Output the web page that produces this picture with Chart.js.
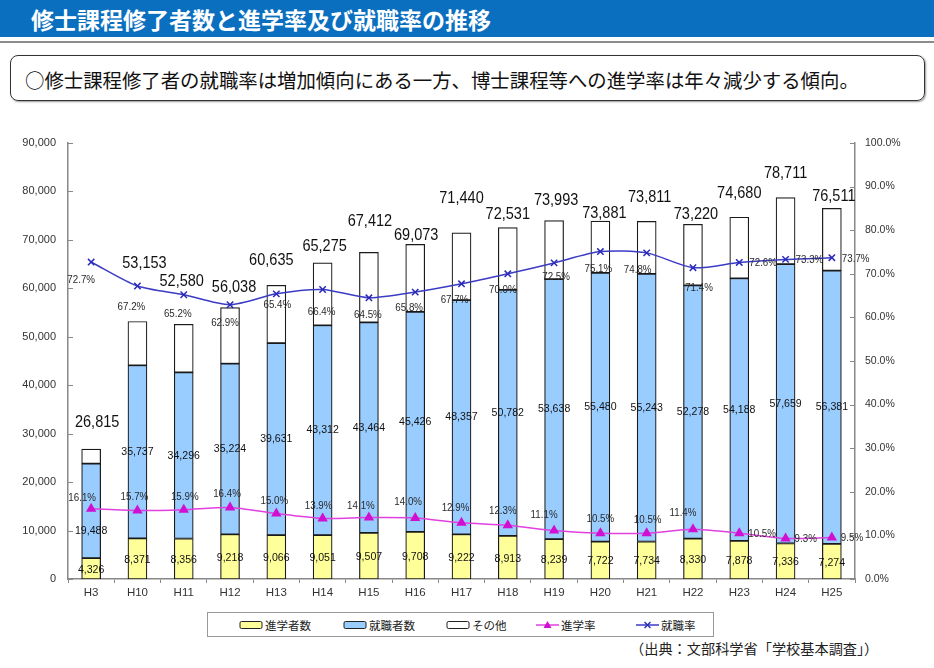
<!DOCTYPE html>
<html><head><meta charset="utf-8">
<script src="https://cdn.jsdelivr.net/npm/chart.js@4/dist/chart.umd.min.js"></script>
<style>
html,body{margin:0;padding:0;background:#fff;width:934px;height:668px;overflow:hidden;font-family:"Noto Sans CJK JP","Noto Sans",sans-serif;}
#titlebar{position:absolute;left:0;top:0;width:934px;height:37px;background:#0b6fc0;}
#title{position:absolute;left:31px;top:4px;color:#fff;font-weight:bold;font-size:23px;line-height:30px;white-space:nowrap;}
#rule{position:absolute;left:0;top:41px;width:934px;height:2px;background:#8c8c8c;}
#box{position:absolute;left:10px;top:55px;width:913px;height:44px;border:1.5px solid #333;border-radius:8px;box-shadow:1px 1px 2px #999;}
#sub{position:absolute;left:25px;top:67px;font-size:19.4px;line-height:26px;color:#111;white-space:nowrap;}
#wrap{position:absolute;left:0;top:120px;width:934px;height:490px;}
#legend{position:absolute;left:207px;top:612px;width:505px;height:23px;border:1px solid #999;background:#fff;}
.li{position:absolute;top:0;height:23px;display:flex;align-items:center;font-size:11.5px;color:#222;white-space:nowrap;}
.li svg{margin-right:1px;}
#src{position:absolute;left:630px;top:639px;font-size:14.2px;line-height:18px;color:#222;white-space:nowrap;}
</style></head>
<body>
<div id="titlebar"><div id="title">修士課程修了者数と進学率及び就職率の推移</div></div>
<div id="rule"></div>
<div id="box"></div>
<div id="sub">○修士課程修了者の就職率は増加傾向にある一方、博士課程等への進学率は年々減少する傾向。</div>
<div id="wrap"><canvas id="c" width="934" height="490"></canvas></div>
<div id="legend"></div>
<div id="src">（出典：文部科学省「学校基本調査」）</div>
<script>
// ---- data ----
const categories = ['H3','H10','H11','H12','H13','H14','H15','H16','H17','H18','H19','H20','H21','H22','H23','H24','H25'];
const shingakuCount = [4326,8371,8356,9218,9066,9051,9507,9708,9222,8913,8239,7722,7734,8330,7878,7336,7274];
const shushokuCount = [19488,35737,34296,35224,39631,43312,43464,45426,48357,50782,53638,55480,55243,52278,54188,57659,56381];
const otherCount = [3001,9045,9928,11596,11938,12912,14441,13939,13861,12836,12116,10679,10834,12612,12614,13716,12856];
const totalCount = [26815,53153,52580,56038,60635,65275,67412,69073,71440,72531,73993,73881,73811,73220,74680,78711,76511];
const shingakuRate = [16.1,15.7,15.9,16.4,15.0,13.9,14.1,14.0,12.9,12.3,11.1,10.5,10.5,11.4,10.5,9.3,9.5];
const shushokuRate = [72.7,67.2,65.2,62.9,65.4,66.4,64.5,65.8,67.7,70.0,72.5,75.1,74.8,71.4,72.6,73.3,73.7];
const seriesNames = ['進学者数','就職者数','その他','進学率','就職率'];

// ---- label placement (styling only) ----
const totalNudgeX = [6,7,-2,4,-5,2,1,1,0,0,2,4,3,3,0,0,2];
const totalNudgeY = [27,58,43,20,25,16,31,9,34,13,20,8,24,10,24,24,12];
const empNudgeX = [-10,-6,-6,-5,1,-1,-1,-6,-7,-5,2,-2,-9,6];
const empNudgeY = [18,21,19,18,11,23,17,16,16,16,14,18,17,20];
const advNudgeX = [-9,-3,1,-3,-2,-4,-8,-7,-6,-5,-10,0,1,-10];
const advNudgeY = [11,13,13,13,12,12,11,16,15,14,15,14,13,16];

const fmt = v => v.toLocaleString('en-US');
const colors = {adv:'#FFFF99', emp:'#99CCFF', oth:'#FFFFFF', advRate:'#e040e0', empRate:'#3b3bc4', edge:'#1a1a1a'};

function scaledText(ctx, txt, x, y, sx){
  ctx.save(); ctx.translate(x, y); ctx.scale(sx, 1); ctx.fillText(txt, 0, 0); ctx.restore();
}

const labelPlugin = {
  id:'labels',
  afterDatasetsDraw(chart){
    const ctx = chart.ctx;
    const ca = chart.chartArea;
    const m0 = chart.getDatasetMeta(0), m1 = chart.getDatasetMeta(1), m2 = chart.getDatasetMeta(2);
    const m3 = chart.getDatasetMeta(3), m4 = chart.getDatasetMeta(4);
    ctx.save();
    // inward ticks
    ctx.strokeStyle = '#888'; ctx.lineWidth = 1;
    chart.scales.y.ticks.forEach(t => { const p = Math.round(chart.scales.y.getPixelForValue(t.value))+0.5; ctx.beginPath(); ctx.moveTo(ca.left, p); ctx.lineTo(ca.left+5, p); ctx.stroke(); });
    chart.scales.y2.ticks.forEach(t => { const p = Math.round(chart.scales.y2.getPixelForValue(t.value))+0.5; ctx.beginPath(); ctx.moveTo(ca.right-5, p); ctx.lineTo(ca.right, p); ctx.stroke(); });

    ctx.textAlign = 'center'; ctx.textBaseline = 'middle';
    ctx.fillStyle = '#111';
    ctx.font = '11.5px "Liberation Sans"';
    m0.data.forEach((el,i) => scaledText(ctx, fmt(shingakuCount[i]), el.x, (el.y+el.base)/2 + 1, 0.92));
    m1.data.forEach((el,i) => scaledText(ctx, fmt(shushokuCount[i]), el.x, (el.y+el.base)/2 + (i===0?20:0), 0.92));
    // totals
    ctx.fillStyle = '#111';
    ctx.font = '16.5px "Liberation Sans"';
    m2.data.forEach((el,i) => scaledText(ctx, fmt(totalCount[i]), el.x + totalNudgeX[i], el.y - totalNudgeY[i], 0.88));
    // rates
    ctx.font = '10.5px "Liberation Sans"';
    ctx.fillStyle = '#2a2a2a';
    m4.data.forEach((el,i) => {
      const t = shushokuRate[i].toFixed(1)+'%';
      if (i < empNudgeX.length) { ctx.textAlign='center'; scaledText(ctx, t, el.x + empNudgeX[i], el.y + empNudgeY[i], 0.93); }
      else { ctx.textAlign='left'; scaledText(ctx, t, el.x + 10, el.y + 1, 0.93); }
    });
    m3.data.forEach((el,i) => {
      const t = shingakuRate[i].toFixed(1)+'%';
      if (i < advNudgeX.length) { ctx.textAlign='center'; scaledText(ctx, t, el.x + advNudgeX[i], el.y - advNudgeY[i], 0.93); }
      else { ctx.textAlign='left'; scaledText(ctx, t, el.x + 9, el.y + 1, 0.93); }
    });
    ctx.restore();
  }
};

const barCommon = {type:'bar', yAxisID:'y', stack:'s', borderColor:colors.edge, borderWidth:1.2, borderSkipped:false, barThickness:19, order:2};
const chart = new Chart(document.getElementById('c'), {
  data:{
    labels:categories,
    datasets:[
      Object.assign({label:seriesNames[0], data:shingakuCount, backgroundColor:colors.adv}, barCommon),
      Object.assign({label:seriesNames[1], data:shushokuCount, backgroundColor:colors.emp}, barCommon),
      Object.assign({label:seriesNames[2], data:otherCount, backgroundColor:colors.oth}, barCommon),
      {type:'line', label:seriesNames[3], data:shingakuRate, yAxisID:'y2', borderColor:colors.advRate, backgroundColor:'#d010d0', pointBorderColor:'#d010d0', pointStyle:'triangle', pointRadius:4.5, borderWidth:1.5, tension:0.25, order:0},
      {type:'line', label:seriesNames[4], data:shushokuRate, yAxisID:'y2', borderColor:colors.empRate, backgroundColor:colors.empRate, pointBorderColor:'#2a2ab8', pointStyle:'crossRot', pointRadius:4.5, pointBorderWidth:1.5, borderWidth:1.5, tension:0.25, order:0}
    ]
  },
  options:{
    responsive:false, animation:false,
    layout:{padding:{top:23, left:0, right:0, bottom:0}},
    plugins:{legend:{display:false}, tooltip:{enabled:false}},
    scales:{
      x:{stacked:true, offset:true,
         grid:{display:true, drawOnChartArea:false, offset:true, tickLength:4, color:'#888'},
         border:{display:true, color:'#888', width:1.5},
         ticks:{font:{family:'Liberation Sans', size:11.5}, color:'#333', padding:3},
         afterFit(s){ s.height = 31; }},
      y:{stacked:true, min:0, max:90000,
         ticks:{stepSize:10000, callback:v=>fmt(v), font:{family:'Liberation Sans', size:11}, color:'#333', padding:12},
         grid:{display:false, drawTicks:false},
         border:{display:true, color:'#888', width:1.5},
         afterFit(s){ s.width = 68; }},
      y2:{position:'right', stacked:false, min:0, max:100,
         ticks:{stepSize:10, callback:v=>v.toFixed(1)+'%', font:{family:'Liberation Sans', size:10.5}, color:'#333', padding:10},
         grid:{display:false, drawTicks:false},
         border:{display:true, color:'#888', width:1.5},
         afterFit(s){ s.width = 79; }}
    }
  },
  plugins:[labelPlugin]
});

// ---- HTML legend built from datasets ----
const legendLefts = [31,135,238,328,428];
const lg = document.getElementById('legend');
chart.data.datasets.forEach((ds,i) => {
  const d = document.createElement('div'); d.className='li'; d.style.left = legendLefts[i]+'px';
  let icon;
  if (ds.type === 'bar') {
    icon = `<svg width="25" height="10"><rect x="1" y="1.5" width="22" height="7" rx="1.5" fill="${ds.backgroundColor}" stroke="#222" stroke-width="1"/></svg>`;
  } else if (ds.pointStyle === 'triangle') {
    icon = `<svg width="24" height="12"><line x1="0" y1="6" x2="23" y2="6" stroke="${ds.borderColor}" stroke-width="1.5"/><polygon points="11.5,2 15.5,9 7.5,9" fill="#d010d0"/></svg>`;
  } else {
    icon = `<svg width="24" height="12"><line x1="0" y1="6" x2="23" y2="6" stroke="${ds.borderColor}" stroke-width="1.5"/><path d="M8.5,3 L14.5,9 M14.5,3 L8.5,9" stroke="#2a2ab8" stroke-width="1.4"/></svg>`;
  }
  d.innerHTML = icon + '<span>' + ds.label + '</span>';
  lg.appendChild(d);
});
</script>
</body></html>
